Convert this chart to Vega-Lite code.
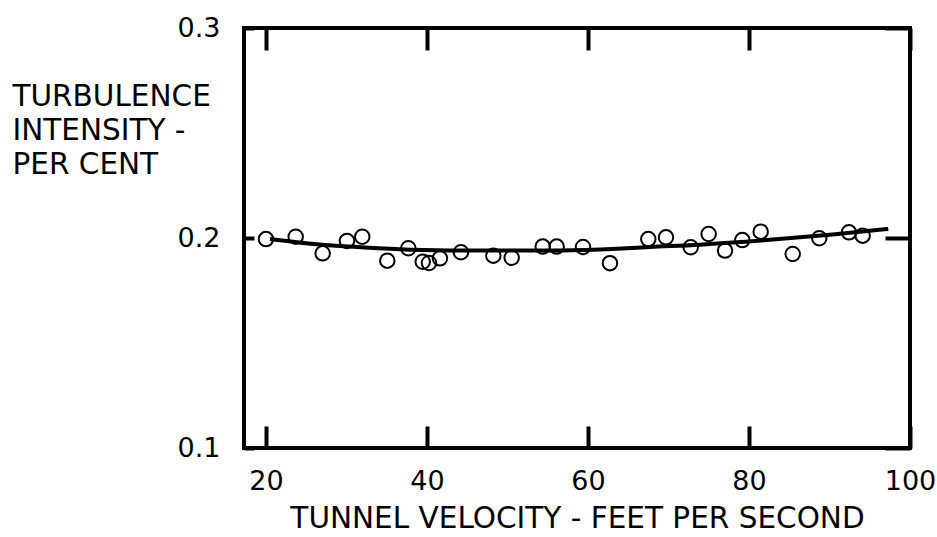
{
  "$schema": "https://vega.github.io/schema/vega-lite/v6.json",
  "width": 666,
  "height": 420,
  "autosize": "none",
  "padding": {"left": 244, "top": 28, "right": 27, "bottom": 89},
  "background": "white",
  "config": {
    "view": {"stroke": "black", "strokeWidth": 4},
    "font": "DejaVu Sans",
    "axis": {
      "grid": false,
      "domain": false,
      "tickColor": "black",
      "tickWidth": 4,
      "labelColor": "black",
      "labelFont": "DejaVu Sans",
      "labelFontSize": 27,
      "titleFont": "DejaVu Sans",
      "titleFontSize": 29.5,
      "titleFontWeight": "normal",
      "titleColor": "black"
    }
  },
  "resolve": {"axis": {"x": "independent", "y": "independent"}},
  "layer": [
    {
      "data": {"values": [
        {"v": 20.5, "t": 0.1995},
        {"v": 26.3, "t": 0.1970},
        {"v": 30.4, "t": 0.1959},
        {"v": 36.6, "t": 0.1946},
        {"v": 42.9, "t": 0.1941},
        {"v": 50.3, "t": 0.1940},
        {"v": 56.5, "t": 0.1941},
        {"v": 63.6, "t": 0.1949},
        {"v": 67.7, "t": 0.1957},
        {"v": 73.9, "t": 0.1968},
        {"v": 82.2, "t": 0.1990},
        {"v": 90.4, "t": 0.2017},
        {"v": 97.3, "t": 0.2043}
      ]},
      "mark": {"type": "line", "color": "black", "strokeWidth": 4, "interpolate": "monotone"},
      "encoding": {
        "x": {
          "field": "v", "type": "quantitative",
          "scale": {"domain": [17.27, 100], "nice": false, "zero": false},
          "axis": {
            "orient": "bottom",
            "values": [20, 40, 60, 80, 100],
            "tickSize": -22,
            "labelPadding": 42,
            "labelFlush": false,
            "title": "TUNNEL VELOCITY - FEET PER SECOND",
            "titlePadding": 10
          }
        },
        "y": {
          "field": "t", "type": "quantitative",
          "scale": {"domain": [0.1, 0.3], "nice": false, "zero": false},
          "axis": {
            "orient": "left",
            "values": [0.1, 0.2, 0.3],
            "format": ".1f",
            "tickSize": -10,
            "labelPadding": 34,
            "labelFlush": false,
            "title": ["TURBULENCE", "INTENSITY -", "PER CENT"],
            "titleAngle": 0,
            "titleAlign": "left",
            "titleBaseline": "top",
            "titleX": -232,
            "titleY": 54,
            "titleLineHeight": 34
          }
        }
      }
    },
    {
      "data": {"values": [
        {"v": 20.0, "t": 0.1995},
        {"v": 23.69, "t": 0.2006},
        {"v": 27.04, "t": 0.1927},
        {"v": 30.06, "t": 0.1986},
        {"v": 31.96, "t": 0.2006},
        {"v": 35.07, "t": 0.1892},
        {"v": 37.68, "t": 0.1951},
        {"v": 39.47, "t": 0.1887},
        {"v": 40.25, "t": 0.1881},
        {"v": 41.61, "t": 0.1903},
        {"v": 44.22, "t": 0.1932},
        {"v": 48.24, "t": 0.1916},
        {"v": 50.52, "t": 0.1906},
        {"v": 54.37, "t": 0.1959},
        {"v": 56.11, "t": 0.1959},
        {"v": 59.38, "t": 0.1957},
        {"v": 62.73, "t": 0.1880},
        {"v": 67.49, "t": 0.1995},
        {"v": 69.69, "t": 0.2003},
        {"v": 72.76, "t": 0.1956},
        {"v": 74.99, "t": 0.2019},
        {"v": 77.02, "t": 0.1940},
        {"v": 79.17, "t": 0.1990},
        {"v": 81.45, "t": 0.2030},
        {"v": 85.43, "t": 0.1924},
        {"v": 88.73, "t": 0.1999},
        {"v": 92.42, "t": 0.2027},
        {"v": 94.12, "t": 0.2011}
      ]},
      "mark": {"type": "point", "shape": "circle", "filled": false, "stroke": "black", "strokeWidth": 2, "size": 210, "opacity": 1},
      "encoding": {
        "x": {
          "field": "v", "type": "quantitative",
          "axis": {
            "orient": "top",
            "values": [20, 40, 60, 80, 100],
            "tickSize": -22,
            "labels": false,
            "title": null
          }
        },
        "y": {
          "field": "t", "type": "quantitative",
          "axis": {
            "orient": "right",
            "values": [0.1, 0.2, 0.3],
            "tickSize": -25,
            "labels": false,
            "title": null
          }
        }
      }
    }
  ]
}
